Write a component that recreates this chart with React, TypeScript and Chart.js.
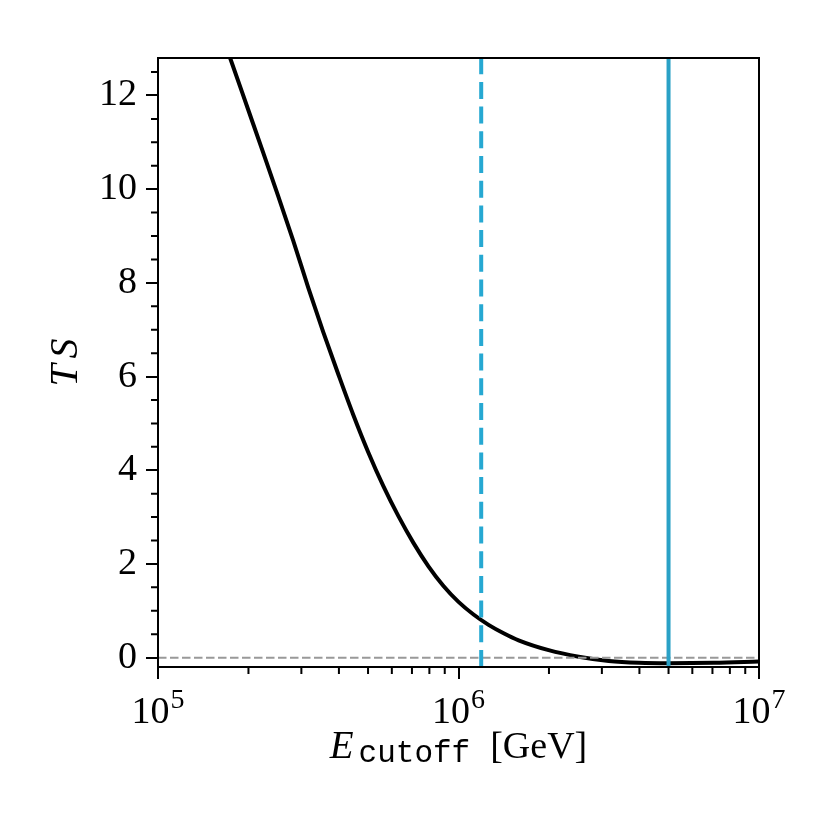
import React, { useEffect, useRef } from 'react';
import { Chart, registerables } from 'chart.js';

Chart.register(...registerables);

// TS profile vs cutoff energy
const energyGeV = [1.585e5, 1.738e5, 1.995e5, 2.239e5, 2.512e5, 2.818e5, 3.162e5, 3.548e5, 3.981e5, 4.467e5, 5.012e5, 5.623e5, 6.31e5, 7.079e5, 7.943e5, 8.913e5, 1.0e6, 1.122e6, 1.259e6, 1.413e6, 1.585e6, 1.995e6, 2.512e6, 3.162e6, 3.981e6, 5.012e6, 7.079e6, 1.0e7];
const tsValues = [13.55, 12.8, 11.7, 10.78, 9.85, 8.9, 7.9, 6.95, 6.05, 5.18, 4.38, 3.66, 3.02, 2.45, 1.95, 1.53, 1.19, 0.92, 0.7, 0.52, 0.37, 0.16, 0.02, -0.07, -0.11, -0.12, -0.11, -0.08];

const bestFitCutoff = 5.0e6;
const lowerCutoff = 1.19e6;

const xRange = [1e5, 1e7];
const yRange = [-0.2, 12.8];

const xMajorTicks = [1e5, 1e6, 1e7];
const xMinorTicks = [2e5, 3e5, 4e5, 5e5, 6e5, 7e5, 8e5, 9e5, 2e6, 3e6, 4e6, 5e6, 6e6, 7e6, 8e6, 9e6];
const yMajorTicks = [0, 2, 4, 6, 8, 10, 12];
const yMinorTicks = [0.5, 1, 1.5, 2.5, 3, 3.5, 4.5, 5, 5.5, 6.5, 7, 7.5, 8.5, 9, 9.5, 10.5, 11, 11.5, 12.5];

const SERIF = '"Liberation Serif", "DejaVu Serif", serif';
const MONO = '"Liberation Mono", "DejaVu Sans Mono", monospace';

const framePlugin = {
    id: 'frame',
    afterDraw(chart: any) {
        const { ctx, chartArea: a, scales } = chart;
        const xs = scales.x;
        const ys = scales.y;
        ctx.save();
        ctx.strokeStyle = '#000';
        ctx.lineWidth = 2;
        ctx.strokeRect(a.left, a.top, a.right - a.left, a.bottom - a.top);

        // minor ticks
        ctx.beginPath();
        xMinorTicks.forEach((v) => {
            const px = xs.getPixelForValue(v);
            ctx.moveTo(px, a.bottom);
            ctx.lineTo(px, a.bottom + 7);
        });
        yMinorTicks.forEach((v) => {
            const py = ys.getPixelForValue(v);
            ctx.moveTo(a.left, py);
            ctx.lineTo(a.left - 7, py);
        });
        ctx.stroke();

        // x tick labels: 10^n
        ctx.fillStyle = '#000';
        ctx.textBaseline = 'alphabetic';
        ctx.textAlign = 'left';
        const baseFont = `38px ${SERIF}`;
        const expFont = `28px ${SERIF}`;
        xMajorTicks.forEach((v) => {
            const px = xs.getPixelForValue(v);
            const exp = String(Math.round(Math.log10(v)));
            ctx.font = baseFont;
            const wb = ctx.measureText('10').width;
            ctx.font = expFont;
            const we = ctx.measureText(exp).width;
            const left = px - (wb + we + 1) / 2;
            ctx.font = baseFont;
            ctx.fillText('10', left, a.bottom + 56);
            ctx.font = expFont;
            ctx.fillText(exp, left + wb + 1, a.bottom + 41);
        });

        // x title: E_cutoff [GeV]
        const cx = (a.left + a.right) / 2;
        const eFont = `italic 39px ${SERIF}`;
        const subFont = `31px ${MONO}`;
        const unitFont = `38px ${SERIF}`;
        ctx.font = eFont;
        const w1 = ctx.measureText('E').width;
        ctx.font = subFont;
        const w2 = ctx.measureText('cutoff').width;
        ctx.font = unitFont;
        const w3 = ctx.measureText('[GeV]').width;
        const g1 = 5;
        const g2 = 20;
        let sx = cx - (w1 + g1 + w2 + g2 + w3) / 2;
        ctx.font = eFont;
        ctx.fillText('E', sx, a.bottom + 91);
        sx += w1 + g1;
        ctx.font = subFont;
        ctx.fillText('cutoff', sx, a.bottom + 95);
        sx += w2 + g2;
        ctx.font = unitFont;
        ctx.fillText('[GeV]', sx, a.bottom + 91);

        // y title: TS
        ctx.translate(a.left - 81, (a.top + a.bottom) / 2);
        ctx.rotate(-Math.PI / 2);
        ctx.font = `italic 40px ${SERIF}`;
        const wt = ctx.measureText('T').width;
        const ws = ctx.measureText('S').width;
        const gap = 6;
        const start = -(wt + gap + ws) / 2;
        ctx.fillText('T', start, 0);
        ctx.fillText('S', start + wt + gap, 0);
        ctx.restore();
    },
};

const App: React.FC = () => {
    const chartRef = useRef<HTMLCanvasElement>(null);

    useEffect(() => {
        document.body.style.margin = '0';
        let chartInstance: Chart | undefined;
        if (chartRef.current) {
            const ctx = chartRef.current.getContext('2d');
            if (ctx) {
                chartInstance = new Chart(ctx, {
                    type: 'line',
                    data: {
                        datasets: [
                            {
                                label: 'best fit',
                                data: [
                                    { x: bestFitCutoff, y: yRange[0] },
                                    { x: bestFitCutoff, y: yRange[1] },
                                ],
                                borderColor: '#2aa1c6',
                                borderWidth: 4,
                                pointRadius: 0,
                            },
                            {
                                label: 'lower limit',
                                data: [
                                    { x: lowerCutoff, y: yRange[0] },
                                    { x: lowerCutoff, y: yRange[1] },
                                ],
                                borderColor: '#26a8d2',
                                borderWidth: 4,
                                borderDash: [17, 7.7],
                                pointRadius: 0,
                            },
                            {
                                label: 'zero',
                                data: [
                                    { x: xRange[0], y: 0 },
                                    { x: xRange[1], y: 0 },
                                ],
                                borderColor: '#999999',
                                borderWidth: 2,
                                borderDash: [8.5, 3.5],
                                pointRadius: 0,
                            },
                            {
                                label: 'TS',
                                data: energyGeV.map((e, i) => ({ x: e, y: tsValues[i] })),
                                borderColor: '#000000',
                                borderWidth: 4,
                                pointRadius: 0,
                                cubicInterpolationMode: 'monotone',
                            },
                        ],
                    },
                    options: {
                        responsive: true,
                        maintainAspectRatio: false,
                        animation: false,
                        layout: { padding: { top: 58, right: 71, left: 0, bottom: 0 } },
                        plugins: {
                            legend: { display: false },
                            tooltip: { enabled: false },
                        },
                        scales: {
                            x: {
                                type: 'logarithmic',
                                min: xRange[0],
                                max: xRange[1],
                                afterBuildTicks: (scale: any) => {
                                    scale.ticks = xMajorTicks.map((v) => ({ value: v, major: true }));
                                },
                                afterFit: (scale: any) => {
                                    scale.height = 163;
                                },
                                ticks: { display: false },
                                border: { display: false },
                                grid: {
                                    drawOnChartArea: false,
                                    drawTicks: true,
                                    tickLength: 12,
                                    lineWidth: 2,
                                    color: '#000',
                                },
                            },
                            y: {
                                type: 'linear',
                                min: yRange[0],
                                max: yRange[1],
                                afterBuildTicks: (scale: any) => {
                                    scale.ticks = yMajorTicks.map((v) => ({ value: v }));
                                },
                                afterFit: (scale: any) => {
                                    scale.width = 158;
                                },
                                ticks: {
                                    padding: 9,
                                    color: '#000',
                                    font: { family: SERIF, size: 38 },
                                    callback: (v: any) => String(v),
                                },
                                border: { display: false },
                                grid: {
                                    drawOnChartArea: false,
                                    drawTicks: true,
                                    tickLength: 12,
                                    lineWidth: 2,
                                    color: '#000',
                                },
                            },
                        },
                    },
                    plugins: [framePlugin],
                });
            }
        }
        return () => {
            if (chartInstance) {
                chartInstance.destroy();
            }
        };
    }, []);

    return (
        <div style={{ width: 830, height: 830, position: 'relative', background: '#fff' }}>
            <canvas ref={chartRef}></canvas>
        </div>
    );
};

export default App;
